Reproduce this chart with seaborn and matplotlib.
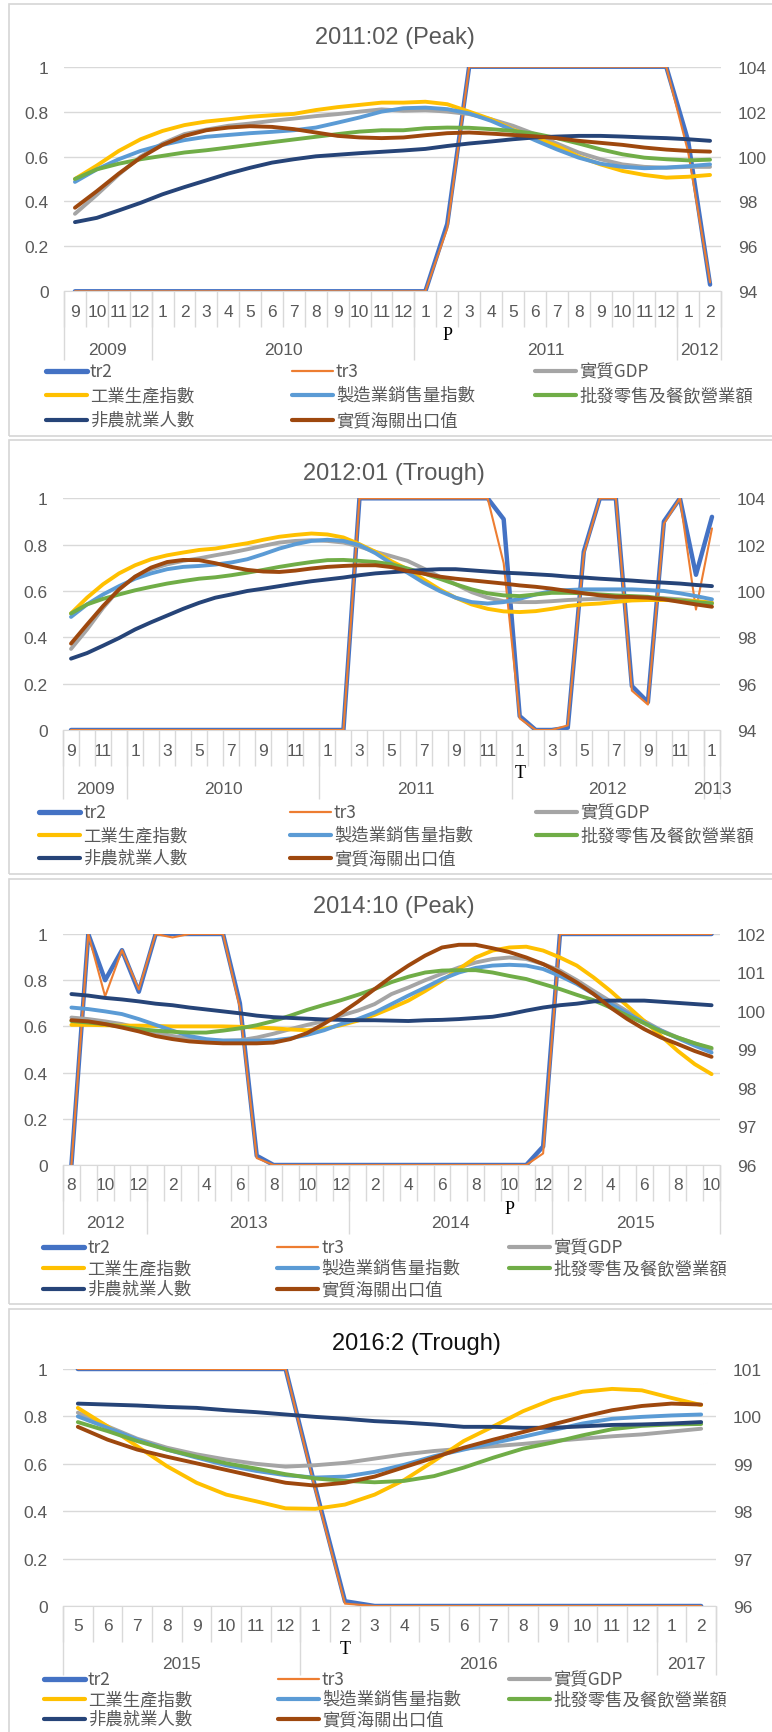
import numpy as np
import matplotlib
matplotlib.use('Agg')
import matplotlib.pyplot as plt
from matplotlib import font_manager
from matplotlib.lines import Line2D
from matplotlib.patches import Rectangle
import seaborn as sns

# ---- series names / colours (Excel defaults) ----
names = ['tr2', 'tr3', '實質GDP', '工業生產指數', '製造業銷售量指數',
         '批發零售及餐飲營業額', '非農就業人數', '實質海關出口值']
colors = ['#4472C4', '#ED7D31', '#A5A5A5', '#FFC000', '#5B9BD5',
          '#70AD47', '#264478', '#9E480E']

# ---- panel 1: 2011:02 (Peak) ----
p1_months = [9, 10, 11, 12] + list(range(1, 13)) * 2 + [1, 2]
p1_years = [2009] * 4 + [2010] * 12 + [2011] * 12 + [2012] * 2
p1_tr2 = [0] * 17 + [0.3] + [1] * 10 + [0.67, 0.03]
p1_tr3 = [0] * 17 + [0.28] + [1] * 10 + [0.62, 0.04]
p1_gdp = [97.45, 98.3, 99.2, 100.0, 100.58, 101.0, 101.2, 101.37, 101.47, 101.59,
          101.69, 101.8, 101.89, 102.0, 102.1, 102.04, 102.07, 102.0, 101.89, 101.66,
          101.37, 101.0, 100.58, 100.18, 99.88, 99.65, 99.54, 99.5, 99.54, 99.54]
p1_ip = [99.0, 99.6, 100.25, 100.77, 101.14, 101.4, 101.56, 101.66, 101.77, 101.84,
         101.9, 102.07, 102.2, 102.3, 102.4, 102.4, 102.44, 102.33, 102.0, 101.66,
         101.2, 100.85, 100.47, 100.0, 99.65, 99.36, 99.18, 99.06, 99.1, 99.18]
p1_mfg = [98.87, 99.43, 99.88, 100.25, 100.52, 100.73, 100.88, 100.96, 101.04, 101.1,
          101.17, 101.29, 101.51, 101.74, 102.0, 102.15, 102.18, 102.11, 101.92, 101.59,
          101.17, 100.73, 100.32, 99.95, 99.68, 99.54, 99.48, 99.51, 99.57, 99.65]
p1_trade = [99.0, 99.43, 99.68, 99.88, 100.03, 100.18, 100.28, 100.4, 100.52, 100.64,
            100.76, 100.88, 101.0, 101.11, 101.17, 101.17, 101.26, 101.29, 101.28, 101.22,
            101.14, 101.02, 100.82, 100.58, 100.32, 100.1, 99.95, 99.88, 99.83, 99.86]
p1_emp = [97.08, 97.27, 97.6, 97.94, 98.32, 98.64, 98.94, 99.24, 99.5, 99.73,
          99.88, 100.01, 100.08, 100.15, 100.21, 100.27, 100.34, 100.47, 100.58, 100.67,
          100.77, 100.85, 100.89, 100.92, 100.92, 100.89, 100.85, 100.82, 100.77, 100.7]
p1_exp = [97.72, 98.46, 99.24, 99.95, 100.52, 100.92, 101.17, 101.29, 101.35, 101.32,
          101.22, 101.07, 100.92, 100.85, 100.82, 100.85, 100.95, 101.04, 101.07, 101.02,
          100.96, 100.9, 100.82, 100.7, 100.61, 100.52, 100.4, 100.31, 100.25, 100.22]

# ---- panel 2: 2012:01 (Trough) ----
p2_months = [9, 10, 11, 12] + list(range(1, 13)) * 3 + [1]
p2_years = [2009] * 4 + [2010] * 12 + [2011] * 12 + [2012] * 12 + [2013]
p2_tr2 = [0] * 18 + [1] * 9 + [0.91, 0.06, 0, 0, 0.01, 0.77, 1, 1, 0.19, 0.12, 0.90, 1, 0.67, 0.92]
p2_tr3 = [0] * 18 + [1] * 9 + [0.72, 0.05, 0, 0, 0.02, 0.76, 1, 1, 0.17, 0.11, 0.89, 1, 0.52, 0.87]
p2_gdp = [97.5, 98.34, 99.27, 100.07, 100.62, 100.94, 101.15, 101.3, 101.41, 101.54,
          101.66, 101.8, 101.95, 102.09, 102.16, 102.19, 102.16, 102.09, 101.92, 101.69,
          101.5, 101.3, 100.97, 100.62, 100.29, 99.95, 99.71, 99.56, 99.52, 99.52,
          99.56, 99.61, 99.64, 99.66, 99.69, 99.71, 99.71, 99.69, 99.64, 99.56, 99.49]
p2_ip = [99.03, 99.71, 100.29, 100.76, 101.11, 101.37, 101.54, 101.66, 101.77, 101.83,
         101.95, 102.06, 102.21, 102.34, 102.42, 102.48, 102.44, 102.31, 102.02, 101.69,
         101.28, 100.94, 100.5, 100.07, 99.71, 99.42, 99.23, 99.12, 99.09, 99.13,
         99.23, 99.35, 99.42, 99.46, 99.53, 99.59, 99.61, 99.61, 99.59, 99.56, 99.49]
p2_mfg = [98.88, 99.42, 99.85, 100.21, 100.53, 100.76, 100.94, 101.04, 101.08, 101.14,
          101.23, 101.37, 101.59, 101.83, 102.02, 102.16, 102.21, 102.16, 101.98, 101.63,
          101.18, 100.79, 100.36, 100.0, 99.71, 99.52, 99.46, 99.52, 99.66, 99.85,
          100.0, 100.04, 100.07, 100.07, 100.07, 100.07, 100.04, 100.0, 99.9, 99.78, 99.64]
p2_trade = [99.03, 99.42, 99.66, 99.85, 100.03, 100.18, 100.32, 100.43, 100.53, 100.59,
            100.68, 100.79, 100.91, 101.04, 101.15, 101.25, 101.33, 101.34, 101.3, 101.25,
            101.15, 100.97, 100.76, 100.53, 100.29, 100.07, 99.9, 99.81, 99.78, 99.85,
            99.92, 99.92, 99.9, 99.85, 99.81, 99.78, 99.75, 99.66, 99.59, 99.52, 99.46]
p2_emp = [97.08, 97.32, 97.64, 97.97, 98.34, 98.65, 98.94, 99.23, 99.49, 99.71,
          99.85, 100.0, 100.1, 100.21, 100.32, 100.42, 100.5, 100.58, 100.68, 100.76,
          100.81, 100.86, 100.91, 100.94, 100.94, 100.89, 100.84, 100.79, 100.76, 100.72,
          100.68, 100.62, 100.58, 100.53, 100.49, 100.45, 100.4, 100.36, 100.32, 100.26, 100.21]
p2_exp = [97.73, 98.55, 99.35, 100.07, 100.62, 101.01, 101.25, 101.34, 101.33, 101.2,
          101.04, 100.91, 100.84, 100.82, 100.88, 100.97, 101.04, 101.08, 101.11, 101.11,
          101.03, 100.86, 100.75, 100.62, 100.53, 100.46, 100.39, 100.32, 100.24, 100.18,
          100.1, 100.0, 99.9, 99.81, 99.75, 99.74, 99.71, 99.64, 99.53, 99.42, 99.32]

# ---- panel 3: 2014:10 (Peak) ----
p3_months = [8, 9, 10, 11, 12] + list(range(1, 13)) * 2 + list(range(1, 11))
p3_years = [2012] * 5 + [2013] * 12 + [2014] * 12 + [2015] * 10
p3_tr2 = [0, 1, 0.80, 0.93, 0.75, 1, 1, 1, 1, 1, 0.70, 0.04] + [0] * 16 + [0.08] + [1] * 10
p3_tr3 = [0, 1, 0.73, 0.93, 0.76, 1, 0.985, 1, 1, 1, 0.68, 0.03] + [0] * 16 + [0.05] + [1] * 10
p3_gdp = [99.83, 99.79, 99.73, 99.66, 99.55, 99.44, 99.35, 99.29, 99.24, 99.23,
          99.24, 99.31, 99.41, 99.53, 99.64, 99.74, 99.88, 100.01, 100.18, 100.44,
          100.61, 100.8, 100.97, 101.13, 101.26, 101.35, 101.39, 101.35, 101.22, 101.05,
          100.8, 100.52, 100.25, 99.99, 99.74, 99.5, 99.31, 99.16, 99.01]
p3_ip = [99.64, 99.64, 99.63, 99.62, 99.62, 99.61, 99.6, 99.6, 99.6, 99.6,
         99.59, 99.57, 99.55, 99.52, 99.5, 99.54, 99.63, 99.75, 99.9, 100.08,
         100.27, 100.52, 100.79, 101.09, 101.39, 101.57, 101.65, 101.67, 101.57, 101.39,
         101.18, 100.87, 100.52, 100.13, 99.74, 99.35, 98.96, 98.62, 98.36]
p3_mfg = [100.09, 100.05, 99.99, 99.92, 99.79, 99.64, 99.49, 99.35, 99.27, 99.23,
          99.23, 99.23, 99.24, 99.29, 99.38, 99.5, 99.66, 99.79, 99.96, 100.18,
          100.4, 100.61, 100.83, 101.0, 101.12, 101.18, 101.2, 101.18, 101.09, 100.91,
          100.7, 100.44, 100.18, 99.94, 99.7, 99.49, 99.29, 99.1, 98.92]
p3_trade = [99.74, 99.7, 99.66, 99.59, 99.53, 99.49, 99.46, 99.44, 99.44, 99.49,
            99.55, 99.63, 99.74, 99.88, 100.03, 100.16, 100.28, 100.42, 100.57, 100.75,
            100.89, 101.0, 101.05, 101.06, 101.06, 101.0, 100.91, 100.83, 100.7, 100.57,
            100.42, 100.28, 100.09, 99.88, 99.68, 99.47, 99.31, 99.16, 99.04]
p3_emp = [100.44, 100.4, 100.34, 100.3, 100.25, 100.19, 100.15, 100.09, 100.04, 99.99,
          99.94, 99.88, 99.84, 99.82, 99.8, 99.78, 99.77, 99.76, 99.76, 99.75,
          99.74, 99.76, 99.77, 99.79, 99.82, 99.85, 99.92, 100.01, 100.09, 100.15,
          100.19, 100.25, 100.27, 100.27, 100.27, 100.24, 100.21, 100.18, 100.15]
p3_exp = [99.76, 99.73, 99.66, 99.57, 99.47, 99.35, 99.27, 99.21, 99.18, 99.16,
          99.16, 99.16, 99.18, 99.27, 99.43, 99.67, 99.94, 100.24, 100.57, 100.89,
          101.18, 101.44, 101.65, 101.72, 101.72, 101.63, 101.53, 101.39, 101.22, 101.0,
          100.74, 100.44, 100.09, 99.79, 99.53, 99.31, 99.14, 98.96, 98.81]

# ---- panel 4: 2016:2 (Trough) ----
p4_months = [5, 6, 7, 8, 9, 10, 11, 12] + list(range(1, 13)) + [1, 2]
p4_years = [2015] * 8 + [2016] * 12 + [2017] * 2
p4_tr2 = [1] * 8 + [0.5, 0.02] + [0] * 12
p4_tr3 = [1] * 8 + [0.49, 0.01] + [0] * 12
p4_gdp = [100.08, 99.79, 99.53, 99.34, 99.2, 99.09, 99.0, 98.94, 98.97, 99.02, 99.11,
          99.2, 99.27, 99.32, 99.37, 99.42, 99.48, 99.53, 99.58, 99.62, 99.68, 99.74]
p4_ip = [100.18, 99.79, 99.37, 98.95, 98.6, 98.35, 98.21, 98.06, 98.05, 98.14, 98.35,
         98.66, 99.06, 99.48, 99.79, 100.11, 100.36, 100.52, 100.58, 100.55, 100.39, 100.24]
p4_mfg = [100.0, 99.76, 99.51, 99.3, 99.13, 98.97, 98.85, 98.76, 98.71, 98.73, 98.83,
          98.98, 99.16, 99.3, 99.44, 99.57, 99.71, 99.85, 99.95, 99.99, 100.02, 100.04]
p4_trade = [99.88, 99.69, 99.48, 99.3, 99.15, 99.01, 98.9, 98.78, 98.69, 98.64, 98.61,
            98.64, 98.74, 98.92, 99.13, 99.32, 99.45, 99.6, 99.73, 99.8, 99.83, 99.84]
p4_emp = [100.27, 100.25, 100.23, 100.2, 100.18, 100.13, 100.09, 100.04, 99.99, 99.95, 99.9,
          99.87, 99.83, 99.78, 99.78, 99.76, 99.76, 99.79, 99.82, 99.83, 99.85, 99.88]
p4_exp = [99.78, 99.51, 99.3, 99.15, 99.01, 98.87, 98.73, 98.6, 98.54, 98.6, 98.73,
          98.93, 99.13, 99.34, 99.51, 99.67, 99.83, 99.99, 100.13, 100.22, 100.27, 100.25]

panels = [
    dict(title='2011:02 (Peak)', months=p1_months, years=p1_years, tr=(p1_tr2, p1_tr3),
         series=(p1_gdp, p1_ip, p1_mfg, p1_trade, p1_emp, p1_exp),
         right=(94, 104, 2), step=1, turn=(2011, 2, 'P')),
    dict(title='2012:01 (Trough)', months=p2_months, years=p2_years, tr=(p2_tr2, p2_tr3),
         series=(p2_gdp, p2_ip, p2_mfg, p2_trade, p2_emp, p2_exp),
         right=(94, 104, 2), step=2, turn=(2012, 1, 'T')),
    dict(title='2014:10 (Peak)', months=p3_months, years=p3_years, tr=(p3_tr2, p3_tr3),
         series=(p3_gdp, p3_ip, p3_mfg, p3_trade, p3_emp, p3_exp),
         right=(96, 102, 1), step=2, turn=(2014, 10, 'P')),
    dict(title='2016:2 (Trough)', months=p4_months, years=p4_years, tr=(p4_tr2, p4_tr3),
         series=(p4_gdp, p4_ip, p4_mfg, p4_trade, p4_emp, p4_exp),
         right=(96, 101, 1), step=1, turn=(2016, 2, 'T')),
]

# layout in pixels: plot box (L, R, top, bottom), title (x, y, colour), frame (top, bottom),
# legend rows and columns
layouts = [
    dict(box=(64, 721, 67.7, 292.3), title=(395, 38, '#595959'), frame=(5, 437),
         rows=(372, 396, 421), cols=(44, 290, 533)),
    dict(box=(63, 720, 499.3, 731), title=(394, 474, '#595959'), frame=(441, 875),
         rows=(813, 836, 859), cols=(37, 288, 534)),
    dict(box=(63, 720, 935, 1166), title=(394, 907, '#595959'), frame=(880, 1305),
         rows=(1248, 1269, 1290), cols=(41, 275, 507)),
    dict(box=(63, 716, 1370, 1607), title=(416, 1344, '#111111'), frame=(1310, 1745),
         rows=(1680, 1700, 1720), cols=(42, 276, 507)),
]

sns.set_style('white')
avail = {f.name for f in font_manager.fontManager.ttflist}
NUM_FONT = 'Liberation Sans Narrow' if 'Liberation Sans Narrow' in avail else 'Liberation Sans'
CJK = ['Noto Sans CJK TC', 'DejaVu Sans']
plt.rcParams['font.family'] = [NUM_FONT, 'Noto Sans CJK TC', 'DejaVu Sans']

W, H = 772, 1733
fig = plt.figure(figsize=(W / 100, H / 100), dpi=100)
GRID = '#D9D9D9'
TXT = '#595959'


def fx(x):
    return x / W


def fy(y):
    return 1 - y / H


def draw_panel(p, lay):
    L, R, T, B = lay['box']
    ax = fig.add_axes([fx(L), fy(B), (R - L) / W, (B - T) / H])
    n = len(p['months'])
    x = np.arange(n)

    sns.lineplot(x=x, y=p['tr'][0], ax=ax, color=colors[0], lw=3.2, legend=False,
                 solid_capstyle='round')
    sns.lineplot(x=x, y=p['tr'][1], ax=ax, color=colors[1], lw=1.5, legend=False,
                 solid_capstyle='round')
    ax.set_xlim(-0.5, n - 0.5)
    ax.set_ylim(0, 1)
    ax.set_yticks(np.linspace(0, 1, 6))
    ax.set_yticklabels(['0', '0.2', '0.4', '0.6', '0.8', '1'])
    ax.grid(axis='y', color=GRID, lw=1)
    ax.set_axisbelow(True)
    for s in ax.spines.values():
        s.set_visible(False)
    ax.spines['bottom'].set_visible(True)
    ax.spines['bottom'].set_color(GRID)
    labels = [str(m) if i % p['step'] == 0 else '' for i, m in enumerate(p['months'])]
    ax.set_xticks(x)
    ax.set_xticklabels(labels)
    ax.tick_params(axis='x', length=0, pad=9, labelsize=12.5, colors=TXT)
    ax.tick_params(axis='y', length=0, pad=11, labelsize=12.5, colors=TXT)
    ax.set_xlabel('')
    ax.set_ylabel('')

    ax2 = ax.twinx()
    for vals, c in zip(p['series'], colors[2:]):
        sns.lineplot(x=x, y=vals, ax=ax2, color=c, lw=2.8, legend=False,
                     solid_capstyle='round')
    lo, hi, st = p['right']
    ax2.set_ylim(lo, hi)
    ax2.set_yticks(np.arange(lo, hi + 0.01, st))
    ax2.set_yticklabels([str(v) for v in range(lo, hi + 1, st)])
    ax2.tick_params(axis='y', length=0, pad=12, labelsize=12.5, colors=TXT)
    ax2.set_ylabel('')
    for s in ax2.spines.values():
        s.set_visible(False)
    ax2.grid(False)

    # multi-level category axis
    trans = ax.get_xaxis_transform()
    hpx = B - T

    def ay(dy):
        return -dy / hpx

    ax.vlines(np.arange(n + 1) - 0.5, ay(36), 0, transform=trans, colors=GRID,
              lw=1, clip_on=False)
    yrs = p['years']
    bounds = [0] + [i for i in range(1, n) if yrs[i] != yrs[i - 1]] + [n]
    ax.vlines(np.array(bounds) - 0.5, ay(69), 0, transform=trans, colors=GRID,
              lw=1, clip_on=False)
    for a, b in zip(bounds[:-1], bounds[1:]):
        ax.text((a + b - 1) / 2, ay(58), str(yrs[a]), transform=trans, ha='center',
                va='center', fontsize=12.5, color=TXT)
    ty, tm, tl = p['turn']
    ti = [i for i in range(n) if yrs[i] == ty and p['months'][i] == tm][0]
    ax.text(ti, ay(43), tl, transform=trans, ha='center', va='center',
            fontsize=13, color='black', family='Liberation Serif')

    # title
    tx, tyy, tc = lay['title']
    fig.text(fx(tx), fy(tyy), p['title'], ha='center', va='center', fontsize=17, color=tc)

    # frame
    ftop, fbot = lay['frame']
    fig.add_artist(Rectangle((fx(9), fy(fbot)), fx(790) - fx(9), (fbot - ftop) / H,
                             transform=fig.transFigure, fill=False, edgecolor='#D6D6D6',
                             lw=1.2))

    # legend (row-major, as in the original)
    widths = [3.8, 1.6, 3.0, 3.0, 3.0, 3.0, 3.0, 3.0]
    for k, name in enumerate(names):
        r, c = divmod(k, 3)
        y0 = lay['rows'][r]
        x0 = lay['cols'][c]
        fig.add_artist(Line2D([fx(x0 + 2), fx(x0 + 43)], [fy(y0), fy(y0)],
                              transform=fig.transFigure, color=colors[k], lw=widths[k],
                              solid_capstyle='round'))
        fig.text(fx(x0 + 46), fy(y0), name, ha='left', va='center', fontsize=12.5,
                 color=TXT, family=CJK)


for p, lay in zip(panels, layouts):
    draw_panel(p, lay)

fig.savefig('out.png', dpi=100)
